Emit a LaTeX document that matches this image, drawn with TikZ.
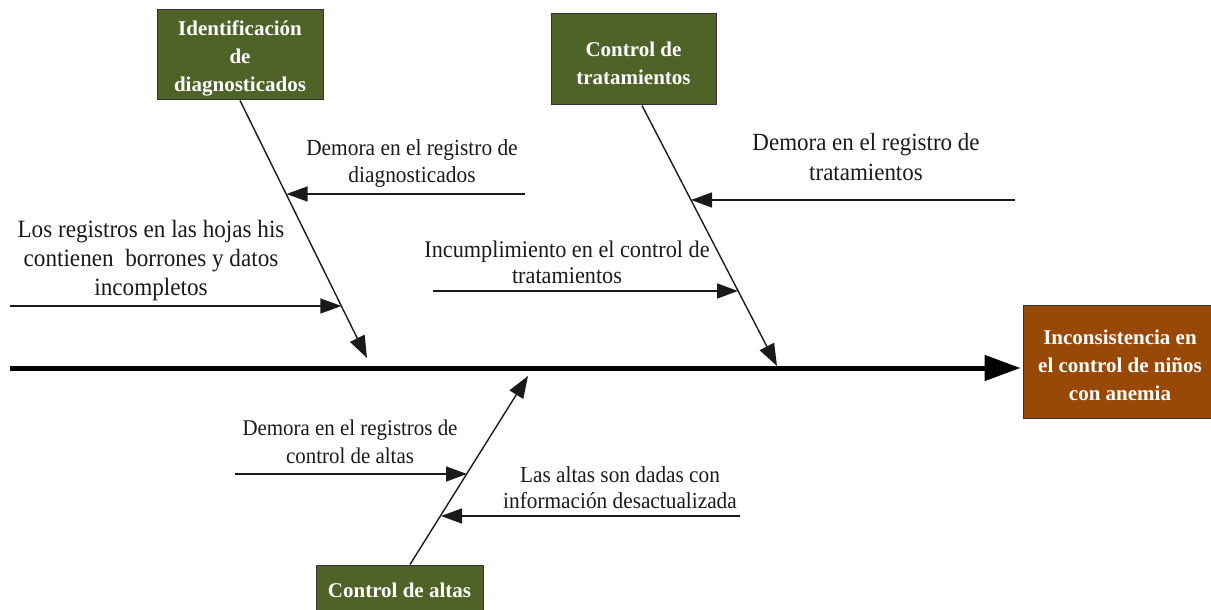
\documentclass[tikz,border=0pt]{standalone}
\usepackage{fontspec}
\setmainfont{Liberation Serif}
\newfontfamily\narrowserif[FakeStretch=0.93]{Liberation Serif}
\usetikzlibrary{arrows.meta}
\definecolor{olive}{HTML}{4F6228}
\definecolor{rust}{HTML}{984807}
\definecolor{ink}{HTML}{1A1A1A}
\newcommand{\topstrut}{\rule{0pt}{22pt}}
\begin{document}
\begin{tikzpicture}[x=1pt,y=-1pt,
  cause/.style={draw=black!80,line width=1pt,fill=olive,text=white,font=\bfseries\fontsize{21}{28}\selectfont,align=center,inner sep=0pt},
  bone/.style={draw=ink,line width=1.4pt,-{Triangle[length=22pt,width=16pt]}},
  sub/.style={draw=ink,line width=1.4pt,-{Triangle[length=21pt,width=15pt]}},
  spine/.style={draw=black,line width=5pt,-{Triangle[length=36pt,width=25pt]},shorten >=2pt},
  lbl/.style={text=ink,align=center,inner sep=0pt}]
\useasboundingbox (0,0) rectangle (1211,610);

% cause and effect boxes
\node[cause, minimum width=166pt, minimum height=90pt] (c1) at (240,55) {\topstrut Identificación\\de\\diagnosticados};
\node[cause, minimum width=165pt, minimum height=91pt] (c2) at (633.5,59.5) {\topstrut Control de\\tratamientos};
\node[cause, fill=rust, minimum width=194pt, minimum height=113pt] (eff) at (1120,361.5) {\topstrut Inconsistencia en\\el control de niños\\con anemia};
\node[cause, minimum width=167pt, minimum height=50pt] (c3) at (399.5,590) {Control de altas};

% labels
\node[lbl,font=\narrowserif\fontsize{23}{27}\selectfont] (t1) at (412,163.5) {Demora en el registro de\\diagnosticados};
\node[lbl,font=\narrowserif\fontsize{24.9}{29}\selectfont] (t2) at (151,260.5) {Los registros en las hojas his\\contienen\ \ borrones y datos\\incompletos};
\node[lbl,font=\narrowserif\fontsize{24.7}{30}\selectfont] (t3) at (866,157) {Demora en el registro de\\tratamientos};
\node[lbl,font=\narrowserif\fontsize{23.9}{26}\selectfont] (t4) at (567,262.5) {Incumplimiento en el control de\\tratamientos};
\node[lbl,font=\narrowserif\fontsize{22.5}{28}\selectfont] (t5) at (350,442) {Demora en el registros de\\control de altas};
\node[lbl,font=\narrowserif\fontsize{22.9}{26}\selectfont] (t6) at (620,488) {Las altas son dadas con\\información desactualizada};

% spine
\coordinate (spS) at (10,368);
\draw[spine] (spS) -- (spS -| eff.west);

% bones
\coordinate (b1e) at (367,358);
\coordinate (b2e) at (777,366);
\coordinate (b3e) at (528,376);
\draw[bone] (c1.south) -- (b1e);
\draw[bone] ([xshift=8.5pt]c2.south) -- (b2e);
\draw[bone] ([xshift=10.5pt]c3.north) -- (b3e);

% sub-causes
\coordinate (s1a) at (525,194);   \coordinate (s1b) at (286.5,194);
\coordinate (s2a) at (10,306);    \coordinate (s2b) at (341.4,306);
\coordinate (s3a) at (1015,200);  \coordinate (s3b) at (691,200);
\coordinate (s4a) at (433,291);   \coordinate (s4b) at (738,291);
\coordinate (s5a) at (235,474);   \coordinate (s5b) at (467,474);
\coordinate (s6a) at (740,516);   \coordinate (s6b) at (441,516);
\draw[sub] (s1a) -- (s1b);
\draw[sub] (s2a) -- (s2b);
\draw[sub] (s3a) -- (s3b);
\draw[sub] (s4a) -- (s4b);
\draw[sub] (s5a) -- (s5b);
\draw[sub] (s6a) -- (s6b);
\end{tikzpicture}
\end{document}
